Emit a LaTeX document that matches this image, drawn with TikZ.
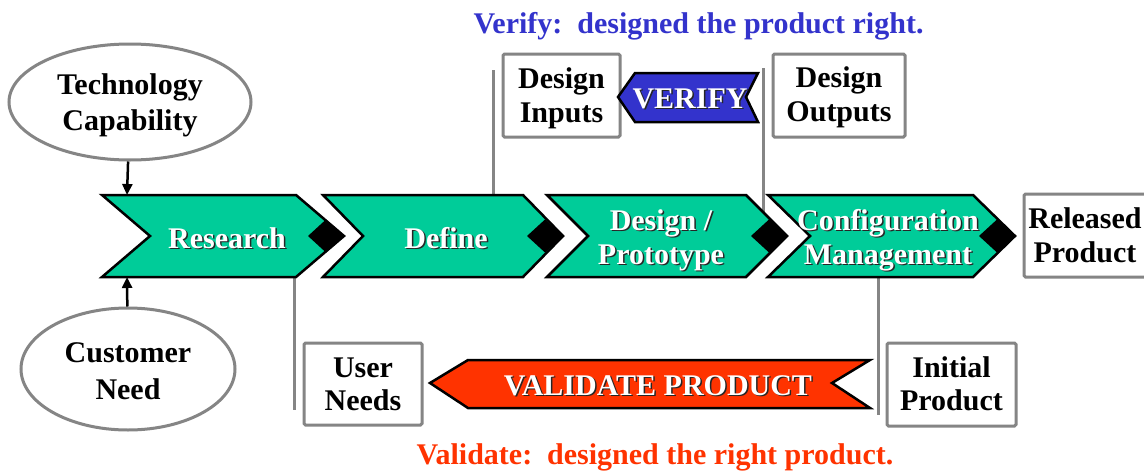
\documentclass[tikz,border=0pt]{standalone}
\usepackage{fontspec}
\setmainfont{Liberation Serif}
\usetikzlibrary{arrows.meta,shapes.geometric}

\definecolor{stagegreen}{HTML}{00CC99}
\definecolor{verifyblue}{HTML}{3333CC}
\definecolor{validred}{HTML}{FF3300}
\definecolor{framegrey}{HTML}{858585}

% two centred lines whose reference point is the first baseline
\newcommand\twolines[2]{\begin{tabular}[t]{@{}c@{}}#1\\#2\end{tabular}}

\tikzset{
  stage/.style={draw=black, line width=2.5pt, fill=stagegreen, line join=miter},
  knot/.style={fill=black},
  banner/.style={draw=black, line width=2.5pt, line join=miter},
  greybox/.style={draw=framegrey, line width=3pt, rounded corners=1.5pt, fill=white,
                  inner sep=0pt},
  oval/.style={ellipse, draw=framegrey, line width=3pt, inner sep=0pt, fill=white},
  lead/.style={draw=framegrey, line width=3pt},
  feed/.style={line width=2.5pt, -{Triangle[length=11pt,width=10pt]}},
  lbl/.style={font=\fontsize{30}{34}\selectfont\bfseries, inner sep=0pt, anchor=base},
  wlbl/.style={lbl, text=white},
  slbl/.style={lbl, text=black!85, xshift=1.5pt, yshift=-1.5pt},
}

% white label with a dark drop shadow: name, position, text
\newcommand\shadowlabel[3]{%
  \node[slbl] (#1-shadow) at (#2) {#3};
  \node[wlbl] (#1) at (#2) {#3};}

% process stage chevron: left x, right x (top corners), point depth
\newcommand\stagechevron[3]{%
  \draw[stage] (#1,195) -- (#2,195) -- ({#2+#3},236) -- (#2,277) -- (#1,277)
               -- ({#1+#3},236) -- cycle;
  \fill[knot] ({#2+#3},236) -- ({#2+#3-18},252.5) -- ({#2+#3-36},236)
              -- ({#2+#3-18},219.5) -- cycle;}

\begin{document}
\begin{tikzpicture}[x=1pt, y=-1pt]
  \fill[white] (0,0) rectangle (1144,471);
  \useasboundingbox (0,0) rectangle (1144,471);

  % anchor points on the stages
  \coordinate (researchTop)  at (127,195);
  \coordinate (researchBot)  at (127,277);
  \coordinate (defineTop)    at (493,195);
  \coordinate (inputsEnd)    at (493,70);
  \coordinate (designSlant)  at (763,214);
  \coordinate (outputsEnd)   at (763,68);
  \coordinate (researchFoot) at (294,277);
  \coordinate (needsEnd)     at (294,410);
  \coordinate (configFoot)   at (878,277);
  \coordinate (initialEnd)   at (878,415);

  % grey leader lines
  \draw[lead] (defineTop) -- (inputsEnd);
  \draw[lead] (designSlant) -- (outputsEnd);
  \draw[lead] (researchFoot) -- (needsEnd);
  \draw[lead] (configFoot) -- (initialEnd);

  % process stages
  \stagechevron{102}{296}{48}
  \stagechevron{323}{523}{40}
  \stagechevron{547}{746}{41}
  \stagechevron{768}{973}{42}

  \shadowlabel{research}{227,248}{Research}
  \shadowlabel{define}{446,248}{Define}
  \shadowlabel{design}{661,230}{\twolines{Design /}{Prototype}}
  \shadowlabel{config}{888,230}{\twolines{Configuration}{Management}}

  % inputs to research
  \node[oval, minimum width=242pt, minimum height=116pt] (tech) at (130,102) {};
  \node[lbl] (techText) at (130,94) {\fontsize{30}{36}\selectfont\twolines{Technology}{Capability}};
  \node[oval, minimum width=214pt, minimum height=122pt] (customer) at (128,369) {};
  \node[lbl] (customerText) at (128,362) {\fontsize{30}{37}\selectfont\twolines{Customer}{Need}};
  \draw[feed] (tech) -- (researchTop);
  \draw[feed] (customer) -- (researchBot);

  % design records
  \node[greybox, minimum width=117pt, minimum height=83pt] (inputsBox) at (561.5,95.5) {};
  \node[lbl] (inputsText) at (561.5,88) {\twolines{Design}{Inputs}};
  \node[greybox, minimum width=132pt, minimum height=83pt] (outputsBox) at (839,95.5) {};
  \node[lbl] (outputsText) at (839,87) {\twolines{Design}{Outputs}};
  \node[greybox, minimum width=132pt, minimum height=83pt] (releasedBox) at (1090,235.5) {};
  \node[lbl] (releasedText) at (1085,228) {\twolines{Released}{Product}};
  \node[greybox, minimum width=118pt, minimum height=82pt] (needsBox) at (363,384) {};
  \node[lbl] (needsText) at (363,377) {\fontsize{30}{33}\selectfont\twolines{User}{Needs}};
  \node[greybox, minimum width=129pt, minimum height=83pt] (initialBox) at (951.5,384.5) {};
  \node[lbl] (initialText) at (951.5,377) {\fontsize{30}{33}\selectfont\twolines{Initial}{Product}};

  % verification banner
  \draw[banner, fill=verifyblue] (618,97) -- (635,73) -- (758,73) -- (746,97)
        -- (758,122) -- (635,122) -- cycle;
  \shadowlabel{verify}{690,108}{VERIFY}

  % validation banner
  \draw[banner, fill=validred] (430,383) -- (468,360) -- (870,360) -- (832,383)
        -- (870,408) -- (468,408) -- cycle;
  \shadowlabel{validate}{658,395}{VALIDATE PRODUCT}

  % captions
  \node[lbl, text=verifyblue] (verifyCaption) at (698.5,33)
       {Verify:\ \ designed the product right.};
  \node[lbl, text=validred] (validateCaption) at (655,464)
       {Validate:\ \ designed the right product.};
\end{tikzpicture}
\end{document}
